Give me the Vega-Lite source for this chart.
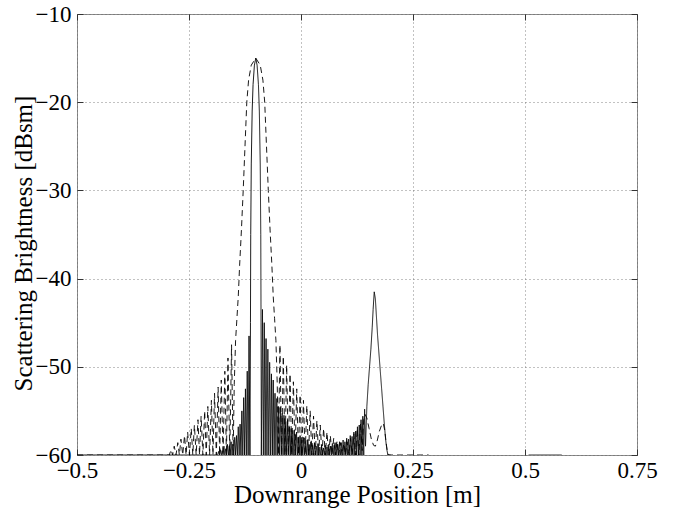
{
  "$schema": "https://vega.github.io/schema/vega-lite/v6.json",
  "width": 560,
  "height": 441,
  "autosize": {"type": "none"},
  "padding": {"left": 77, "top": 14, "right": 36, "bottom": 55},
  "background": "white",
  "config": {
    "view": {"stroke": "#8c8c8c", "strokeWidth": 1},
    "axis": {
      "domain": false,
      "tickSize": -6,
      "tickColor": "#333333",
      "tickWidth": 1,
      "labelFlush": false,
      "labelFont": "Liberation Serif",
      "labelFontSize": 23,
      "labelColor": "black",
      "titleFont": "Liberation Serif",
      "titleFontSize": 25,
      "titleFontWeight": "normal",
      "titleColor": "black",
      "grid": true,
      "gridDash": [1, 3],
      "gridColor": "#666666",
      "gridWidth": 0.8
    }
  },
  "data": {"values": [
    {"s":"solid","x":-0.5,"y":-60},{"s":"solid","x":-0.186,"y":-60},{"s":"solid","x":-0.184,"y":-59.6},{"s":"solid","x":-0.182,"y":-60},{"s":"solid","x":-0.18,"y":-59.4},{"s":"solid","x":-0.178,"y":-60},{"s":"solid","x":-0.176,"y":-59.5},{"s":"solid","x":-0.174,"y":-60},{"s":"solid","x":-0.172,"y":-59.0},{"s":"solid","x":-0.17,"y":-60},{"s":"solid","x":-0.168,"y":-59.3},{"s":"solid","x":-0.166,"y":-60},{"s":"solid","x":-0.164,"y":-58.8},{"s":"solid","x":-0.162,"y":-60},{"s":"solid","x":-0.16,"y":-59.0},{"s":"solid","x":-0.158,"y":-60},{"s":"solid","x":-0.156,"y":-58.5},{"s":"solid","x":-0.154,"y":-60},{"s":"solid","x":-0.152,"y":-58.8},{"s":"solid","x":-0.15,"y":-60},{"s":"solid","x":-0.148,"y":-58.0},{"s":"solid","x":-0.146,"y":-60},{"s":"solid","x":-0.144,"y":-57.8},{"s":"solid","x":-0.142,"y":-60},{"s":"solid","x":-0.14,"y":-56.8},{"s":"solid","x":-0.138,"y":-60},{"s":"solid","x":-0.136,"y":-56.5},{"s":"solid","x":-0.134,"y":-60},{"s":"solid","x":-0.132,"y":-55.0},{"s":"solid","x":-0.13,"y":-60},{"s":"solid","x":-0.128,"y":-53.5},{"s":"solid","x":-0.126,"y":-60},{"s":"solid","x":-0.124,"y":-52.5},{"s":"solid","x":-0.122,"y":-60},{"s":"solid","x":-0.12,"y":-50.5},{"s":"solid","x":-0.118,"y":-60},{"s":"solid","x":-0.116,"y":-46.5},{"s":"solid","x":-0.114,"y":-60},
    {"s":"solid","x":-0.1128,"y":-45},{"s":"solid","x":-0.1122,"y":-35},{"s":"solid","x":-0.111,"y":-27},{"s":"solid","x":-0.109,"y":-21},{"s":"solid","x":-0.107,"y":-18},{"s":"solid","x":-0.104,"y":-15.8},{"s":"solid","x":-0.101,"y":-15},{"s":"solid","x":-0.098,"y":-15.8},{"s":"solid","x":-0.095,"y":-18},{"s":"solid","x":-0.093,"y":-21},{"s":"solid","x":-0.091,"y":-27},{"s":"solid","x":-0.0898,"y":-35},{"s":"solid","x":-0.0892,"y":-45},{"s":"solid","x":-0.0885,"y":-60},
    {"s":"solid","x":-0.086,"y":-43.5},{"s":"solid","x":-0.084,"y":-60},{"s":"solid","x":-0.082,"y":-45.0},{"s":"solid","x":-0.08,"y":-60},{"s":"solid","x":-0.078,"y":-46.8},{"s":"solid","x":-0.076,"y":-60},{"s":"solid","x":-0.074,"y":-48.0},{"s":"solid","x":-0.072,"y":-60},{"s":"solid","x":-0.07,"y":-49.5},{"s":"solid","x":-0.068,"y":-60},{"s":"solid","x":-0.066,"y":-50.8},{"s":"solid","x":-0.064,"y":-60},{"s":"solid","x":-0.062,"y":-51.5},{"s":"solid","x":-0.06,"y":-60},{"s":"solid","x":-0.058,"y":-53.0},{"s":"solid","x":-0.056,"y":-60},{"s":"solid","x":-0.054,"y":-53.6},{"s":"solid","x":-0.052,"y":-60},{"s":"solid","x":-0.05,"y":-54.5},{"s":"solid","x":-0.048,"y":-60},{"s":"solid","x":-0.046,"y":-54.6},{"s":"solid","x":-0.044,"y":-60},{"s":"solid","x":-0.042,"y":-55.3},{"s":"solid","x":-0.04,"y":-60},{"s":"solid","x":-0.038,"y":-55.5},{"s":"solid","x":-0.036,"y":-60},{"s":"solid","x":-0.034,"y":-56.2},{"s":"solid","x":-0.032,"y":-60},{"s":"solid","x":-0.03,"y":-56.0},{"s":"solid","x":-0.028,"y":-60},{"s":"solid","x":-0.026,"y":-56.8},{"s":"solid","x":-0.024,"y":-60},{"s":"solid","x":-0.022,"y":-57.0},{"s":"solid","x":-0.02,"y":-60},{"s":"solid","x":-0.018,"y":-57.2},{"s":"solid","x":-0.016,"y":-60},{"s":"solid","x":-0.014,"y":-57.6},{"s":"solid","x":-0.012,"y":-60},{"s":"solid","x":-0.01,"y":-57.4},{"s":"solid","x":-0.008,"y":-60},{"s":"solid","x":-0.006,"y":-58.0},{"s":"solid","x":-0.004,"y":-60},{"s":"solid","x":-0.002,"y":-57.8},{"s":"solid","x":0.0,"y":-60},{"s":"solid","x":0.002,"y":-58.3},{"s":"solid","x":0.004,"y":-60},{"s":"solid","x":0.006,"y":-58.0},{"s":"solid","x":0.008,"y":-60},{"s":"solid","x":0.01,"y":-58.5},{"s":"solid","x":0.012,"y":-60},{"s":"solid","x":0.014,"y":-58.3},{"s":"solid","x":0.016,"y":-60},{"s":"solid","x":0.018,"y":-58.8},{"s":"solid","x":0.02,"y":-60},{"s":"solid","x":0.022,"y":-58.5},{"s":"solid","x":0.024,"y":-60},{"s":"solid","x":0.026,"y":-58.9},{"s":"solid","x":0.028,"y":-60},{"s":"solid","x":0.03,"y":-58.6},{"s":"solid","x":0.032,"y":-60},{"s":"solid","x":0.034,"y":-59.0},{"s":"solid","x":0.036,"y":-60},{"s":"solid","x":0.038,"y":-58.7},{"s":"solid","x":0.04,"y":-60},{"s":"solid","x":0.042,"y":-59.1},{"s":"solid","x":0.044,"y":-60},{"s":"solid","x":0.046,"y":-58.9},{"s":"solid","x":0.048,"y":-60},{"s":"solid","x":0.05,"y":-59.2},{"s":"solid","x":0.052,"y":-60},{"s":"solid","x":0.054,"y":-58.9},{"s":"solid","x":0.056,"y":-60},{"s":"solid","x":0.058,"y":-59.1},{"s":"solid","x":0.06,"y":-60},{"s":"solid","x":0.062,"y":-58.8},{"s":"solid","x":0.064,"y":-60},{"s":"solid","x":0.066,"y":-59.0},{"s":"solid","x":0.068,"y":-60},{"s":"solid","x":0.07,"y":-58.7},{"s":"solid","x":0.072,"y":-60},{"s":"solid","x":0.074,"y":-58.9},{"s":"solid","x":0.076,"y":-60},{"s":"solid","x":0.078,"y":-58.6},{"s":"solid","x":0.08,"y":-60},{"s":"solid","x":0.082,"y":-58.8},{"s":"solid","x":0.084,"y":-60},{"s":"solid","x":0.086,"y":-58.5},{"s":"solid","x":0.088,"y":-60},{"s":"solid","x":0.09,"y":-58.6},{"s":"solid","x":0.092,"y":-60},{"s":"solid","x":0.094,"y":-58.3},{"s":"solid","x":0.096,"y":-60},{"s":"solid","x":0.098,"y":-58.5},{"s":"solid","x":0.1,"y":-60},{"s":"solid","x":0.102,"y":-58.1},{"s":"solid","x":0.104,"y":-60},{"s":"solid","x":0.106,"y":-58.2},{"s":"solid","x":0.108,"y":-60},{"s":"solid","x":0.11,"y":-57.8},{"s":"solid","x":0.112,"y":-60},{"s":"solid","x":0.114,"y":-57.9},{"s":"solid","x":0.116,"y":-60},{"s":"solid","x":0.118,"y":-57.4},{"s":"solid","x":0.12,"y":-60},{"s":"solid","x":0.122,"y":-57.3},{"s":"solid","x":0.124,"y":-60},{"s":"solid","x":0.126,"y":-56.8},{"s":"solid","x":0.128,"y":-60},{"s":"solid","x":0.13,"y":-56.6},{"s":"solid","x":0.132,"y":-60},{"s":"solid","x":0.134,"y":-56.0},{"s":"solid","x":0.136,"y":-60},{"s":"solid","x":0.138,"y":-55.6},{"s":"solid","x":0.14,"y":-60},{"s":"solid","x":0.142,"y":-54.8},{"s":"solid","x":0.144,"y":-59},
    {"s":"solid","x":0.147,"y":-54.5},{"s":"solid","x":0.15,"y":-52},{"s":"solid","x":0.153,"y":-50},{"s":"solid","x":0.156,"y":-48},{"s":"solid","x":0.159,"y":-45.5},{"s":"solid","x":0.161,"y":-43.5},{"s":"solid","x":0.1635,"y":-41.5},{"s":"solid","x":0.166,"y":-42.3},{"s":"solid","x":0.168,"y":-44},{"s":"solid","x":0.171,"y":-46.5},{"s":"solid","x":0.174,"y":-48.5},{"s":"solid","x":0.177,"y":-50.5},{"s":"solid","x":0.18,"y":-52.5},{"s":"solid","x":0.183,"y":-54.5},{"s":"solid","x":0.186,"y":-56.5},{"s":"solid","x":0.189,"y":-58.3},{"s":"solid","x":0.192,"y":-59.5},{"s":"solid","x":0.194,"y":-60},{"s":"solid","x":0.2,"y":-60},

    {"s":"dashed","x":-0.5,"y":-60},{"s":"dashed","x":-0.294,"y":-60},{"s":"dashed","x":-0.29,"y":-59.4},{"s":"dashed","x":-0.2865,"y":-60},{"s":"dashed","x":-0.283,"y":-59.0},{"s":"dashed","x":-0.279,"y":-60},{"s":"dashed","x":-0.275,"y":-58.6},{"s":"dashed","x":-0.2715,"y":-60},{"s":"dashed","x":-0.268,"y":-58.2},{"s":"dashed","x":-0.264,"y":-60},{"s":"dashed","x":-0.26,"y":-57.8},{"s":"dashed","x":-0.2565,"y":-60},{"s":"dashed","x":-0.253,"y":-57.4},{"s":"dashed","x":-0.249,"y":-60},{"s":"dashed","x":-0.245,"y":-57.0},{"s":"dashed","x":-0.2415,"y":-60},{"s":"dashed","x":-0.238,"y":-56.6},{"s":"dashed","x":-0.234,"y":-60},{"s":"dashed","x":-0.23,"y":-56.0},{"s":"dashed","x":-0.2265,"y":-60},{"s":"dashed","x":-0.223,"y":-55.6},{"s":"dashed","x":-0.219,"y":-60},{"s":"dashed","x":-0.215,"y":-55.0},{"s":"dashed","x":-0.2115,"y":-60},{"s":"dashed","x":-0.208,"y":-54.5},{"s":"dashed","x":-0.204,"y":-60},{"s":"dashed","x":-0.2,"y":-53.8},{"s":"dashed","x":-0.1965,"y":-60},{"s":"dashed","x":-0.193,"y":-53.0},{"s":"dashed","x":-0.189,"y":-60},{"s":"dashed","x":-0.185,"y":-52.3},{"s":"dashed","x":-0.1815,"y":-60},{"s":"dashed","x":-0.178,"y":-51.5},{"s":"dashed","x":-0.174,"y":-60},{"s":"dashed","x":-0.17,"y":-50.5},{"s":"dashed","x":-0.1665,"y":-60},{"s":"dashed","x":-0.163,"y":-49.0},{"s":"dashed","x":-0.159,"y":-60},{"s":"dashed","x":-0.155,"y":-47.5},{"s":"dashed","x":-0.1515,"y":-60},
    {"s":"dashed","x":-0.149,"y":-52},{"s":"dashed","x":-0.146,"y":-47},{"s":"dashed","x":-0.143,"y":-44.5},{"s":"dashed","x":-0.14,"y":-42},{"s":"dashed","x":-0.137,"y":-38.5},{"s":"dashed","x":-0.133,"y":-34.5},{"s":"dashed","x":-0.129,"y":-30},{"s":"dashed","x":-0.125,"y":-25},{"s":"dashed","x":-0.121,"y":-20},{"s":"dashed","x":-0.117,"y":-17.5},{"s":"dashed","x":-0.111,"y":-15.8},{"s":"dashed","x":-0.101,"y":-15},{"s":"dashed","x":-0.091,"y":-15.8},{"s":"dashed","x":-0.085,"y":-17.5},{"s":"dashed","x":-0.081,"y":-20},{"s":"dashed","x":-0.077,"y":-25},{"s":"dashed","x":-0.073,"y":-30},{"s":"dashed","x":-0.069,"y":-34.5},{"s":"dashed","x":-0.065,"y":-38.5},{"s":"dashed","x":-0.062,"y":-42},{"s":"dashed","x":-0.059,"y":-44.5},{"s":"dashed","x":-0.056,"y":-47},{"s":"dashed","x":-0.053,"y":-52},{"s":"dashed","x":-0.0505,"y":-60},
    {"s":"dashed","x":-0.047,"y":-47.5},{"s":"dashed","x":-0.04325,"y":-60},{"s":"dashed","x":-0.0395,"y":-48.8},{"s":"dashed","x":-0.03575,"y":-60},{"s":"dashed","x":-0.032,"y":-49.8},{"s":"dashed","x":-0.02825,"y":-60},{"s":"dashed","x":-0.0245,"y":-50.8},{"s":"dashed","x":-0.02075,"y":-60},{"s":"dashed","x":-0.017,"y":-51.7},{"s":"dashed","x":-0.01325,"y":-60},{"s":"dashed","x":-0.0095,"y":-52.5},{"s":"dashed","x":-0.00575,"y":-60},{"s":"dashed","x":-0.002,"y":-53.2},{"s":"dashed","x":0.00175,"y":-60},{"s":"dashed","x":0.0055,"y":-53.8},{"s":"dashed","x":0.00925,"y":-60},{"s":"dashed","x":0.013,"y":-54.4},{"s":"dashed","x":0.01675,"y":-60},{"s":"dashed","x":0.0205,"y":-55.0},{"s":"dashed","x":0.02425,"y":-60},{"s":"dashed","x":0.028,"y":-55.6},{"s":"dashed","x":0.03175,"y":-60},{"s":"dashed","x":0.0355,"y":-56.1},{"s":"dashed","x":0.03925,"y":-60},{"s":"dashed","x":0.043,"y":-56.6},{"s":"dashed","x":0.04675,"y":-60},{"s":"dashed","x":0.0505,"y":-57.0},{"s":"dashed","x":0.05425,"y":-60},{"s":"dashed","x":0.058,"y":-57.4},{"s":"dashed","x":0.06175,"y":-60},{"s":"dashed","x":0.0655,"y":-57.8},{"s":"dashed","x":0.06925,"y":-60},{"s":"dashed","x":0.073,"y":-58.1},{"s":"dashed","x":0.07675,"y":-60},{"s":"dashed","x":0.0805,"y":-58.4},{"s":"dashed","x":0.08425,"y":-60},{"s":"dashed","x":0.088,"y":-58.6},{"s":"dashed","x":0.09175,"y":-60},{"s":"dashed","x":0.0955,"y":-58.7},{"s":"dashed","x":0.09925,"y":-60},{"s":"dashed","x":0.103,"y":-58.5},{"s":"dashed","x":0.10675,"y":-60},{"s":"dashed","x":0.1105,"y":-58.1},{"s":"dashed","x":0.11425,"y":-60},{"s":"dashed","x":0.118,"y":-57.6},{"s":"dashed","x":0.12175,"y":-60},{"s":"dashed","x":0.1255,"y":-57.0},{"s":"dashed","x":0.12925,"y":-60},{"s":"dashed","x":0.133,"y":-56.4},{"s":"dashed","x":0.1365,"y":-59.5},
    {"s":"dashed","x":0.14,"y":-56},{"s":"dashed","x":0.143,"y":-55.4},{"s":"dashed","x":0.147,"y":-55.8},{"s":"dashed","x":0.152,"y":-57},{"s":"dashed","x":0.157,"y":-58.2},{"s":"dashed","x":0.162,"y":-58.9},{"s":"dashed","x":0.166,"y":-59},{"s":"dashed","x":0.17,"y":-58.4},{"s":"dashed","x":0.175,"y":-57.3},{"s":"dashed","x":0.18,"y":-56.6},{"s":"dashed","x":0.1835,"y":-56.4},{"s":"dashed","x":0.187,"y":-57.2},{"s":"dashed","x":0.19,"y":-58.6},{"s":"dashed","x":0.193,"y":-59.7},{"s":"dashed","x":0.195,"y":-60},{"s":"dashed","x":0.285,"y":-60},

    {"s":"seg","x":0.508,"y":-60},{"s":"seg","x":0.582,"y":-60}
  ]},
  "layer": [
    {
      "mark": {"type": "line", "strokeWidth": 0.9, "clip": true, "color": "black"},
      "encoding": {
        "x": {
          "field": "x", "type": "quantitative",
          "scale": {"domain": [-0.5, 0.75], "nice": false, "zero": false},
          "axis": {"values": [-0.5, -0.25, 0, 0.25, 0.5, 0.75], "format": ".2~f", "title": "Downrange Position [m]", "labelPadding": 10, "titlePadding": 0}
        },
        "y": {
          "field": "y", "type": "quantitative",
          "scale": {"domain": [-60, -10], "nice": false, "zero": false},
          "axis": {"values": [-60, -50, -40, -30, -20, -10], "format": "d", "title": "Scattering Brightness [dBsm]", "labelPadding": 12, "titleX": -46, "titleY": 229, "titleBaseline": "alphabetic", "titleAngle": 270}
        },
        "detail": {"field": "s"},
        "strokeDash": {"field": "s", "type": "nominal", "scale": {"domain": ["solid", "dashed", "seg"], "range": [[1, 0], [6, 4], [1, 0]]}, "legend": null}
      }
    },
    {
      "mark": {"type": "line", "strokeOpacity": 0, "clip": true},
      "encoding": {
        "x": {
          "field": "x", "type": "quantitative",
          "scale": {"domain": [-0.5, 0.75], "nice": false, "zero": false},
          "axis": {"orient": "top", "values": [-0.5, -0.25, 0, 0.25, 0.5, 0.75], "labels": false, "grid": false, "title": null}
        },
        "y": {
          "field": "y", "type": "quantitative",
          "scale": {"domain": [-60, -10], "nice": false, "zero": false},
          "axis": {"orient": "right", "values": [-60, -50, -40, -30, -20, -10], "labels": false, "grid": false, "title": null}
        },
        "detail": {"field": "s"}
      }
    }
  ],
  "resolve": {"axis": {"x": "independent", "y": "independent"}}
}
